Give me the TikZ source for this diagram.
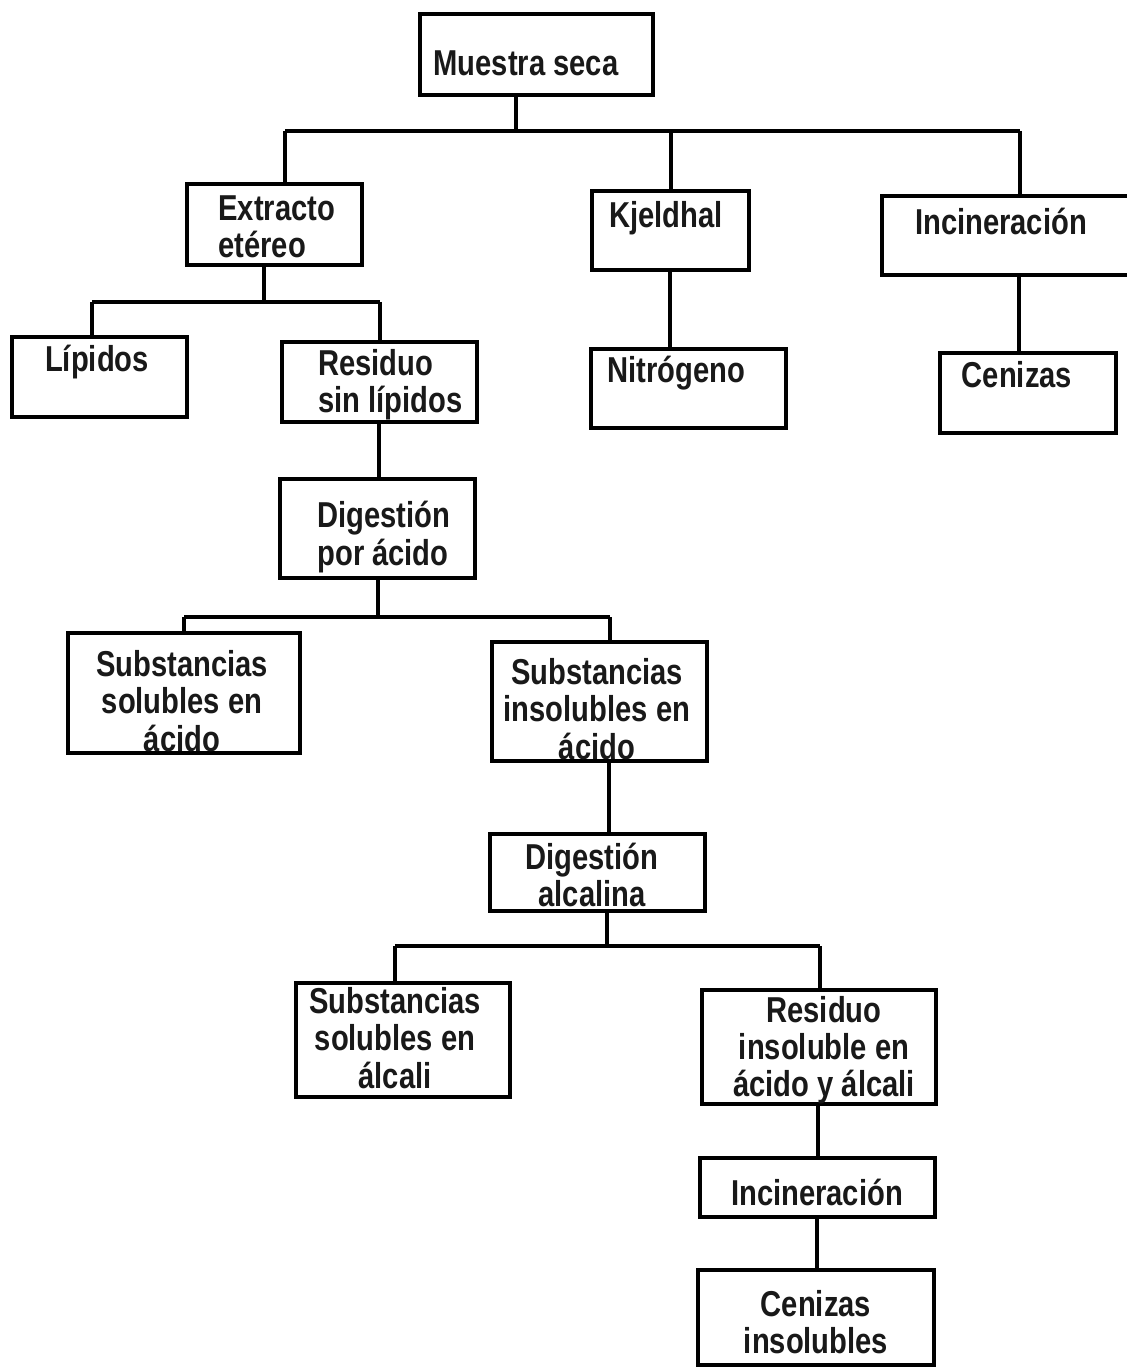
\documentclass[tikz,border=0pt]{standalone}
\usepackage{fontspec}
\setmainfont{Liberation Sans}[FakeStretch=0.81]
\usetikzlibrary{fit}
\tikzset{
  box/.style={draw=black, line width=1.7pt, inner sep=0pt, rectangle},
  txt/.style={font=\bfseries\fontsize{18}{18.6}\selectfont, inner sep=0pt, align=center, text=black!90},
  txtl/.style={txt, align=left},
  conn/.style={draw=black, line width=1.7pt}
}
\begin{document}
\begin{tikzpicture}[x=0.5pt, y=-0.5pt]
\clip (0,0) rectangle (1127,1368);
\fill[white] (0,0) rectangle (1127,1368);
% boxes
\node[box, fit={(420,14) (653,95)}] (ms) {};
\node[box, fit={(187,184) (362,265)}] (ee) {};
\node[box, fit={(592,191) (749,270)}] (kj) {};
\node[box, fit={(882,196) (1145,275)}] (in1) {};
\node[box, fit={(12,337) (187,417)}] (li) {};
\node[box, fit={(282,342) (477,422)}] (rs) {};
\node[box, fit={(591,349) (786,428)}] (ni) {};
\node[box, fit={(940,353) (1116,433)}] (ce) {};
\node[box, fit={(280,479) (475,578)}] (dp) {};
\node[box, fit={(68,633) (300,753)}] (sa) {};
\node[box, fit={(492,642) (707,761)}] (si) {};
\node[box, fit={(490,834) (705,911)}] (da) {};
\node[box, fit={(296,983) (510,1097)}] (sl) {};
\node[box, fit={(702,990) (936,1104)}] (ri) {};
\node[box, fit={(700,1158) (935,1217)}] (in2) {};
\node[box, fit={(698,1270) (934,1365)}] (ci) {};
% texts
\node[txt] (ms-t) at (526,63) {Muestra seca};
\node[txtl, anchor=west] (ee-t) at (218,227) {Extracto\\etéreo};
\node[txt] (kj-t) at (666,218) {Kjeldhal};
\node[txt] (in1-t) at (1001,221) {Incineración};
\node[txt] (li-t) at (97,362) {Lípidos};
\node[txtl, anchor=west] (rs-t) at (318,385) {Residuo\\sin lípidos};
\node[txt] (ni-t) at (676,373) {Nitrógeno};
\node[txt] (ce-t) at (1017,375) {Cenizas};
\node[txtl, anchor=west] (dp-t) at (317,537) {Digestión\\por ácido};
\node[txt] (sa-t) at (182,701) {Substancias\\solubles en\\ácido};
\node[txt] (si-t) at (597,709) {Substancias\\insolubles en\\ácido};
\node[txt] (da-t) at (592,875) {Digestión\\alcalina};
\node[txt] (sl-t) at (395,1038) {Substancias\\solubles en\\álcali};
\node[txt] (ri-t) at (824,1050) {Residuo\\insoluble en\\ácido y álcali};
\node[txt] (in2-t) at (817,1192) {Incineración};
\node[txt] (ci-t) at (816,1322) {Cenizas\\insolubles};
% junction coordinates
\coordinate (j1) at (516,131);
\coordinate (j1a) at (285,131);
\coordinate (j1b) at (671,131);
\coordinate (j1c) at (1020,131);
\coordinate (j2) at (264,302);
\coordinate (j2a) at (92,302);
\coordinate (j2b) at (380,302);
\coordinate (j3) at (378,617);
\coordinate (j3a) at (184,617);
\coordinate (j3b) at (610,617);
\coordinate (j4) at (607,946);
\coordinate (j4a) at (395,946);
\coordinate (j4b) at (820,946);
% connectors
\draw[conn] (ms.south -| j1) -- (j1);
\draw[conn] (j1a) -- (j1c);
\draw[conn] (j1a) -- (ee.north -| j1a);
\draw[conn] (j1b) -- (kj.north -| j1b);
\draw[conn] (j1c) -- (in1.north -| j1c);
\draw[conn] (kj.south -| 670,0) -- (ni.north -| 670,0);
\draw[conn] (in1.south -| 1019,0) -- (ce.north -| 1019,0);
\draw[conn] (ee.south -| j2) -- (j2);
\draw[conn] (j2a) -- (j2b);
\draw[conn] (j2a) -- (li.north -| j2a);
\draw[conn] (j2b) -- (rs.north -| j2b);
\draw[conn] (rs.south -| 379,0) -- (dp.north -| 379,0);
\draw[conn] (dp.south -| j3) -- (j3);
\draw[conn] (j3a) -- (j3b);
\draw[conn] (j3a) -- (sa.north -| j3a);
\draw[conn] (j3b) -- (si.north -| j3b);
\draw[conn] (si.south -| 609,0) -- (da.north -| 609,0);
\draw[conn] (da.south -| j4) -- (j4);
\draw[conn] (j4a) -- (j4b);
\draw[conn] (j4a) -- (sl.north -| j4a);
\draw[conn] (j4b) -- (ri.north -| j4b);
\draw[conn] (ri.south -| 818,0) -- (in2.north -| 818,0);
\draw[conn] (in2.south -| 817,0) -- (ci.north -| 817,0);
\end{tikzpicture}
\end{document}
